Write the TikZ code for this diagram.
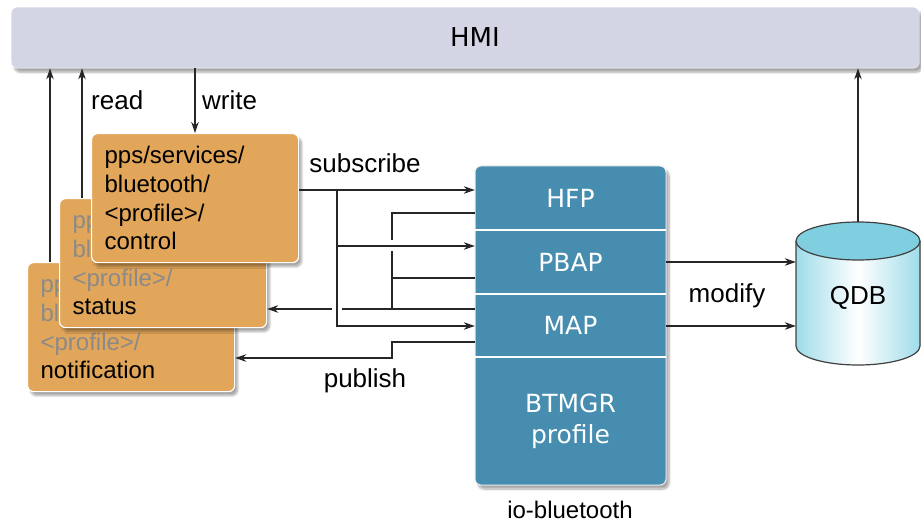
\documentclass[tikz,border=0pt]{standalone}
\usepackage{fontspec}
\setmainfont{Liberation Sans}
\newfontfamily\dv{DejaVu Sans}
\usetikzlibrary{arrows.meta,shadows.blur}
\definecolor{hmic}{HTML}{D3D4E4}
\definecolor{orng}{HTML}{E2A65A}
\definecolor{blu}{HTML}{468DB0}
\definecolor{gtxt}{HTML}{8A8A8A}
\definecolor{cyl}{HTML}{80CFE0}
\definecolor{cylb}{HTML}{9FDCEA}
\begin{document}
\begin{tikzpicture}[x=1pt,y=-1pt,
 arr/.style={-{Stealth[length=11pt,width=7.5pt]}, line width=1.2pt, black!85},
 ln/.style={line width=1.2pt, black!85},
 softsh/.style={blur shadow={shadow xshift=3pt, shadow yshift=-4pt, shadow blur steps=8, shadow opacity=35}},
 obox/.style={draw=white, line width=1.2pt, fill=orng, rounded corners=6pt, minimum width=207pt, minimum height=129pt, anchor=north west, align=left, text width=181pt, inner xsep=13pt, font=\fontsize{24}{28.8}\selectfont, softsh},
 lab/.style={font=\fontsize{26}{30}\selectfont, inner sep=0pt},
 sec/.style={minimum width=191pt, text=white, font=\dv\fontsize{25}{31}\selectfont, align=center, inner sep=0pt}
]
\useasboundingbox (0,0) rectangle (921,524);

% HMI bar
\node[draw=white, fill=hmic, rounded corners=6pt, minimum width=908pt, minimum height=61pt, anchor=north west, inner sep=0pt, softsh] (hmi) at (11,7) {};
\node[font=\dv\fontsize{26}{30}\selectfont, inner sep=0pt] (hmit) at (475,37) {HMI};

% orange PPS boxes (back ones are partly hidden)
\node[obox] (notif) at (27,262) {\textcolor{gtxt}{pp\vphantom{pps/services/}}\\\textcolor{gtxt}{bl\vphantom{bluetooth/}}\\\textcolor{gtxt}{<profile>/}\\notification};
\node[obox] (stat) at (59,198) {\textcolor{gtxt}{pp\vphantom{pps/services/}}\\\textcolor{gtxt}{bl\vphantom{bluetooth/}}\\\textcolor{gtxt}{<profile>/}\\status};
\node[obox] (ctrl) at (91,133) {pps/services/\\bluetooth/\\<profile>/\\control};

% io-bluetooth block
\draw[fill=blu, draw=white!85!gray, line width=1pt, rounded corners=6pt, softsh] (475,166) rectangle (666,485);
\draw[white, line width=2pt] (475,230) -- (666,230) (475,294) -- (666,294) (475,357) -- (666,357);
\node[sec, minimum height=64pt] (hfp) at (570.5,198) {HFP};
\node[sec, minimum height=64pt] (pbap) at (570.5,262) {PBAP};
\node[sec, minimum height=63pt] (map) at (570.5,325.5) {MAP};
\node[sec, minimum height=128pt] (btmgr) at (570.5,421) {BTMGR\\profile};
\node[lab, font=\fontsize{24}{28}\selectfont] (iobt) at (570,510) {io-bluetooth};

% QDB cylinder
\fill[left color=cylb, right color=cylb, middle color=white] (796,241) -- (796,346) arc[start angle=180,end angle=360,x radius=62pt,y radius=19pt] -- (920,241) -- cycle;
\draw[line width=1.2pt, black!75] (796,241) -- (796,346) arc[start angle=180,end angle=360,x radius=62pt,y radius=19pt] -- (920,241);
\filldraw[fill=cyl, draw=black!75, line width=1.2pt] (858,241) ellipse[x radius=62pt, y radius=19pt];
\node[minimum width=124pt, minimum height=152pt, inner sep=0pt, font=\fontsize{26}{30}\selectfont] (qdb) at (858,298) {QDB};

% HMI read/write
\draw[arr] (notif.north -| 50,0) -- (hmi.south -| 50,0);
\draw[arr] (stat.north -| 82,0) -- (hmi.south -| 82,0);
\draw[arr] (hmi.south -| 195,0) -- (ctrl.north -| 195,0);
\draw[arr] (qdb.north) -- (hmi.south -| qdb.north);
\node[lab, anchor=west] (readl) at (91,100) {read};
\node[lab, anchor=west] (writel) at (202,100) {write};

% subscribe
\draw[arr] (ctrl.east |- 0,190) -- (hfp.west |- 0,190);
\draw[arr] (337,190) |- (pbap.west |- 0,246);
\draw[arr] (337,190) |- (map.west |- 0,326);
\node[lab] (subl) at (365,163) {subscribe};

% status feedback
\draw[ln] (hfp.west |- 0,213) -| (392,240);
\draw[ln] (392,251) -- (392,309);
\draw[ln] (pbap.west |- 0,278) -- (392,278);
\draw[ln] (map.west |- 0,309) -- (342,309);
\draw[arr] (332,309) -- (stat.east |- 0,309);

% publish
\draw[arr] (map.west |- 0,342) -| (392,358) -- (notif.east |- 0,358);
\node[lab] (publ) at (365,381) {publish};

% modify
\draw[arr] (pbap.east |- 0,262) -- (qdb.west |- 0,262);
\draw[arr] (map.east |- 0,326) -- (qdb.west |- 0,326);
\node[lab] (modl) at (727,296) {modify};
\end{tikzpicture}
\end{document}
